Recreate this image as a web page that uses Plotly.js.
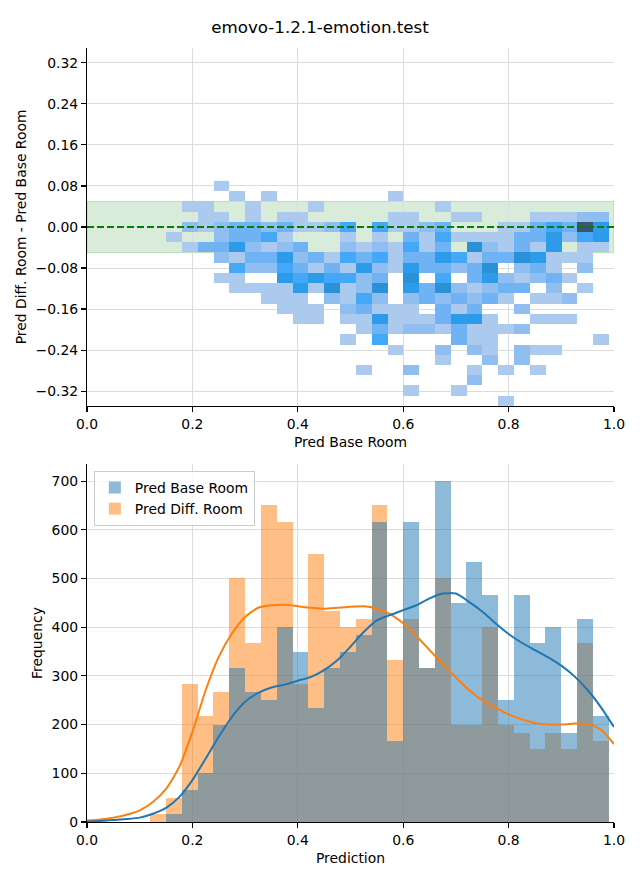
<!DOCTYPE html>
<html><head><meta charset="utf-8">
<script src="https://cdn.plot.ly/plotly-3.0.1.min.js"></script>
<style>html,body{margin:0;padding:0;background:#fff}#chart{width:640px;height:880px}</style>
</head><body><div id="chart"></div>
<script>
// ---------- DATA ----------
const chartTitle = 'emovo-1.2.1-emotion.test';
// 2D histogram bins (Pred Base Room on x, Pred Diff. Room - Pred Base Room on y)
const xBinStart2D = 0.150, xBinWidth = 0.030, nXBins2D = 28;
const yBinStart2D = -0.349, yBinHeight = 0.01995, nYBins2D = 22;
// counts per cell, rows listed from top (highest y) to bottom
const counts2D = [
 [0,0,0,1,0,0,0,0,0,0,0,0,0,0,0,0,0,0,0,0,0,0,0,0,0,0,0,0],
 [0,0,0,0,1,0,1,0,0,0,0,0,0,0,1,0,0,0,0,0,0,0,0,0,0,0,0,0],
 [0,1,1,0,0,1,0,0,0,1,0,0,0,0,0,0,0,1,0,0,0,0,0,0,0,0,0,0],
 [0,0,1,1,0,1,0,1,1,0,0,0,0,0,1,1,0,0,1,1,0,0,0,1,1,1,2,2],
 [0,2,1,2,3,3,2,3,1,1,2,4,0,4,1,1,2,3,0,0,0,1,1,3,4,3,11,5],
 [1,0,0,2,3,3,4,1,0,0,0,1,0,1,0,3,1,4,1,1,1,1,3,3,5,2,4,5],
 [0,1,3,3,5,2,1,2,3,0,0,2,1,2,1,4,1,3,0,6,2,1,3,1,5,0,1,1],
 [0,0,0,2,1,3,3,5,2,3,1,4,3,4,1,3,3,5,4,1,3,3,6,5,1,1,1,0],
 [0,0,0,0,4,2,2,4,3,1,3,1,5,2,1,5,3,3,2,3,6,0,2,3,1,0,2,0],
 [0,0,0,1,1,0,0,5,4,5,4,4,2,3,0,6,0,4,0,3,5,2,1,2,3,1,0,0],
 [0,0,0,0,1,1,1,1,5,1,6,1,2,6,0,5,3,6,2,1,2,3,3,0,2,0,1,0],
 [0,0,0,0,0,0,1,1,1,0,2,1,4,2,0,2,3,2,3,2,3,1,0,1,1,2,0,0],
 [0,0,0,0,0,0,0,1,1,1,0,2,3,1,1,1,0,3,1,3,0,0,2,0,0,0,0,0],
 [0,0,0,0,0,0,0,0,1,1,0,1,1,5,1,1,1,3,5,5,1,0,0,1,1,1,0,0],
 [0,0,0,0,0,0,0,0,0,0,0,0,1,3,1,2,2,1,3,1,1,1,2,0,0,0,0,0],
 [0,0,0,0,0,0,0,0,0,0,0,1,0,4,0,0,0,0,3,1,1,0,0,0,0,0,0,1],
 [0,0,0,0,0,0,0,0,0,0,0,0,0,0,1,0,0,2,0,2,1,0,2,1,1,0,0,0],
 [0,0,0,0,0,0,0,0,0,0,0,0,0,0,0,0,0,1,0,0,2,0,2,0,0,0,0,0],
 [0,0,0,0,0,0,0,0,0,0,0,0,1,0,0,2,0,0,0,1,0,1,0,1,0,0,0,0],
 [0,0,0,0,0,0,0,0,0,0,0,0,0,0,0,0,0,0,0,2,0,0,0,0,0,0,0,0],
 [0,0,0,0,0,0,0,0,0,0,0,0,0,0,0,1,0,0,1,0,0,0,0,0,0,0,0,0],
 [0,0,0,0,0,0,0,0,0,0,0,0,0,0,0,0,0,0,0,0,0,1,0,0,0,0,0,0]
];
const bandLow = -0.05, bandHigh = 0.05, refLineY = 0;

// 1D histograms (Frequency)
const histBinStart = 0.120, nHistBins = 29;
const seriesNames = ['Pred Base Room', 'Pred Diff. Room'];
const freqBase = [0,16.7,66.7,100,200,316.7,266.7,250,400,350,233.3,316.7,350,383.3,616.7,166.7,616.7,316.7,700,450,533.3,466.7,250,466.7,366.7,400,183.3,416.7,216.7];
const freqDiff = [16.7,50,283.3,216.7,266.7,500,366.7,650,616.7,283.3,550,433.3,400,416.7,650,333.3,416.7,316.7,500,200,200,400,200,183.3,150,183.3,150,366.7,166.7];
// KDE curves
const kdeX = [0,0.025,0.05,0.075,0.1,0.125,0.15,0.175,0.2,0.225,0.25,0.275,0.3,0.325,0.35,0.375,0.4,0.425,0.45,0.475,0.5,0.525,0.55,0.575,0.6,0.625,0.65,0.675,0.7,0.725,0.75,0.775,0.8,0.825,0.85,0.875,0.9,0.925,0.95,0.975,1.0];
const kdeBase = [1,2,4,6,9,17,29,51,86,130,175,216,247,265,276,282,290,298,312,332,360,390,414,425,435,445,459,469,469,452,432,408,386,368,353,338,321,299,271,236,195];
const kdeDiff = [3,5,9,15,24,41,68,113,185,270,339,387,421,440,445,446,443,440,438,440,442,443,438,427,408,382,353,324,297,271,250,235,221,211,203,200,200,202,201,190,160];
const xTicks = [0,0.2,0.4,0.6,0.8,1.0];

// ---------- seaborn-like sequential colormap from a seed colour (HUSL) ----------
const HM = [[3.2406,-1.5372,-0.4986],[-0.9689,1.8758,0.0415],[0.0557,-0.2040,1.0570]];
const HMI = [[0.4124,0.3576,0.1805],[0.2126,0.7152,0.0722],[0.0193,0.1192,0.9505]];
const refU = 0.19784, refV = 0.46834, labE = 0.008856, labK = 903.3;
function maxChroma(L, H) {
  const hr = H * Math.PI / 180, sH = Math.sin(hr), cH = Math.cos(hr);
  const sub1 = Math.pow(L + 16, 3) / 1560896;
  const sub2 = sub1 > 0.008856 ? sub1 : L / 903.3;
  let res = Infinity;
  for (const [m1, m2, m3] of HM) {
    const top = (0.99915 * m1 + 1.05122 * m2 + 1.14460 * m3) * sub2;
    const rb = 0.86330 * m3 - 0.17266 * m2;
    const lb = 0.12949 * m3 - 0.38848 * m1;
    const bottom = (rb * sH + lb * cH) * sub2;
    for (const t of [0, 1]) {
      const C = L * (top - 1.05122 * t) / (bottom + 0.17266 * sH * t);
      if (C > 0 && C < res) res = C;
    }
  }
  return res;
}
const fInv = t => Math.pow(t, 3) > labE ? Math.pow(t, 3) : (116 * t - 16) / labK;
const fF = t => t > labE ? Math.pow(t, 1 / 3) : 7.787 * t + 16 / 116;
const toLin = c => c > 0.04045 ? Math.pow((c + 0.055) / 1.055, 2.4) : c / 12.92;
const fromLin = c => c <= 0.0031308 ? 12.92 * c : 1.055 * Math.pow(c, 1 / 2.4) - 0.055;
function rgbToHusl(r, g, b) {
  const l = [r, g, b].map(toLin);
  const [X, Y, Z] = HMI.map(row => row[0] * l[0] + row[1] * l[1] + row[2] * l[2]);
  const d = X + 15 * Y + 3 * Z;
  const L = 116 * fF(Y) - 16;
  const U = 13 * L * (4 * X / d - refU), V = 13 * L * (9 * Y / d - refV);
  let H = Math.atan2(V, U) * 180 / Math.PI; if (H < 0) H += 360;
  return [H, Math.hypot(U, V) / maxChroma(L, H) * 100, L];
}
function huslToRgb(H, S, L) {
  const C = maxChroma(L, H) / 100 * S, hr = H * Math.PI / 180;
  const U = Math.cos(hr) * C, V = Math.sin(hr) * C;
  const Y = fInv((L + 16) / 116);
  const vu = U / (13 * L) + refU, vv = V / (13 * L) + refV;
  const X = -(9 * Y * vu) / ((vu - 4) * vv - vu * vv);
  const Z = (9 * Y - 15 * vv * Y - vv * X) / (3 * vv);
  return HM.map(row => Math.min(1, Math.max(0, fromLin(row[0] * X + row[1] * Y + row[2] * Z))));
}
const [seedH, seedS] = rgbToHusl(0x1f / 255, 0x77 / 255, 0xb4 / 255);
const NC = 256, NX = Math.floor(1.15 * 256);
const cmap = [];
for (let i = 0; i < NC; i++) {
  const xx = -1 + 2 * i / (NX - 1);
  cmap.push(huslToRgb(seedH, seedS * Math.cos(xx), 35 + 45 * i / (NC - 1)));
}
cmap.reverse();
const colorscale = cmap.map((c, j) => [j / (NC - 1), 'rgb(' + c.map(v => Math.round(v * 255)).join(',') + ')']);

// ---------- build traces ----------
const xEdges = Array.from({length: nXBins2D + 1}, (_, i) => xBinStart2D + i * xBinWidth);
const yEdges = Array.from({length: nYBins2D + 1}, (_, i) => yBinStart2D + i * yBinHeight);
const zGrid = counts2D.slice().reverse().map(r => r.map(v => v > 0 ? v : null));
const zMax = Math.max(...counts2D.flat());
const histCenters = Array.from({length: nHistBins}, (_, i) => histBinStart + (i + 0.5) * xBinWidth);

const heat = {
  type: 'heatmap', x: xEdges, y: yEdges, z: zGrid, xaxis: 'x', yaxis: 'y',
  colorscale: colorscale, zmin: 1, zmax: zMax, showscale: false, hoverinfo: 'skip', zsmooth: false
};
const barDiff = {
  type: 'bar', x: histCenters, y: freqDiff, width: xBinWidth, xaxis: 'x2', yaxis: 'y2',
  name: seriesNames[1], marker: {color: '#ff7f0e', line: {width: 0}}, opacity: 0.5, legendrank: 2
};
const barBase = {
  type: 'bar', x: histCenters, y: freqBase, width: xBinWidth, xaxis: 'x2', yaxis: 'y2',
  name: seriesNames[0], marker: {color: '#1f77b4', line: {width: 0}}, opacity: 0.5, legendrank: 1
};
const lineDiff = {
  type: 'scatter', mode: 'lines', x: kdeX, y: kdeDiff, xaxis: 'x2', yaxis: 'y2',
  line: {color: '#ff7f0e', width: 2, shape: 'spline', smoothing: 0.6}, showlegend: false, hoverinfo: 'skip'
};
const lineBase = {
  type: 'scatter', mode: 'lines', x: kdeX, y: kdeBase, xaxis: 'x2', yaxis: 'y2',
  line: {color: '#1f77b4', width: 2, shape: 'spline', smoothing: 0.6}, showlegend: false, hoverinfo: 'skip'
};

const FONT = 'DejaVu Sans';
const axisCommon = {
  showline: true, linecolor: '#000', linewidth: 1.1, mirror: false,
  ticks: 'outside', ticklen: 5, tickwidth: 1.1, tickcolor: '#000',
  showgrid: true, gridcolor: '#dcdcdc', gridwidth: 1, zeroline: false,
  tickfont: {family: FONT, size: 13.9, color: '#000'}
};
const layout = {
  width: 640, height: 880,
  margin: {l: 87, r: 26, t: 48, b: 58},
  paper_bgcolor: '#ffffff', plot_bgcolor: '#ffffff',
  font: {family: FONT, size: 13.9, color: '#000'},
  title: {text: chartTitle, font: {family: FONT, size: 16.7, color: '#000'},
          x: 0.5, xref: 'container', xanchor: 'center', y: 1 - 27 / 880, yref: 'container', yanchor: 'middle'},
  barmode: 'overlay', bargap: 0,
  showlegend: true,
  legend: {x: 0.013, y: (822 - 471) / 774, xanchor: 'left', yanchor: 'top',
           bgcolor: 'rgba(255,255,255,0.8)', bordercolor: '#cccccc', borderwidth: 1,
           font: {family: FONT, size: 13.9, color: '#000'}, traceorder: 'normal'},
  xaxis: Object.assign({}, axisCommon, {domain: [0, 1], anchor: 'y', range: [0, 1],
           tickvals: xTicks, tickformat: '.1f',
           title: {text: 'Pred Base Room', font: {family: FONT, size: 13.9}, standoff: 6}}),
  yaxis: Object.assign({}, axisCommon, {domain: [0.5375, 1], anchor: 'x', range: [-0.349, 0.349],
           tick0: 0, dtick: 0.08, tickformat: '.2f',
           title: {text: 'Pred Diff. Room - Pred Base Room', font: {family: FONT, size: 13.9}, standoff: 5}}),
  xaxis2: Object.assign({}, axisCommon, {domain: [0, 1], anchor: 'y2', range: [0, 1],
           tickvals: xTicks, tickformat: '.1f',
           title: {text: 'Prediction', font: {family: FONT, size: 13.9}, standoff: 6}}),
  yaxis2: Object.assign({}, axisCommon, {domain: [0, 0.4625], anchor: 'x2', range: [0, 735],
           tick0: 0, dtick: 100,
           title: {text: 'Frequency', font: {family: FONT, size: 13.9}, standoff: 5}}),
  shapes: [
    {type: 'rect', xref: 'x', yref: 'y', x0: 0, x1: 1, y0: bandLow, y1: bandHigh,
     fillcolor: 'rgba(0,128,0,0.15)', line: {color: 'rgba(0,128,0,0.18)', width: 1}, layer: 'below'},
    {type: 'line', xref: 'x', yref: 'y', x0: 0, x1: 1, y0: refLineY, y1: refLineY,
     line: {color: '#008000', width: 2, dash: '7px,3px'}, layer: 'above'}
  ]
};
Plotly.newPlot('chart', [heat, barDiff, barBase, lineDiff, lineBase], layout, {staticPlot: true, displayModeBar: false});
</script></body></html>
